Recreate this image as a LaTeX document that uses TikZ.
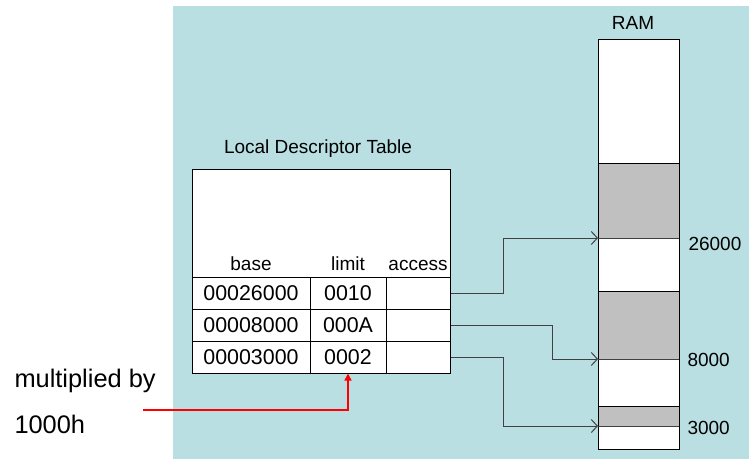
\documentclass[tikz,border=0pt]{standalone}
\usepackage{fontspec}
\setmainfont{Liberation Sans}
\usepackage{tikz}
\usetikzlibrary{positioning}
\usetikzlibrary{arrows.meta}

\definecolor{panel}{RGB}{185,223,226}
\definecolor{block}{RGB}{192,192,192}
\definecolor{wire}{RGB}{64,64,64}

\newcommand{\cellfont}{\fontsize{21.4}{24}\selectfont}
\newcommand{\labfont}{\fontsize{19}{22}\selectfont}
\newcommand{\notefont}{\fontsize{25.4}{28}\selectfont}

\tikzset{
    cell/.style={draw, fill=white, inner sep=0pt, minimum height=32pt, font=\cellfont},
    head/.style={anchor=base, inner sep=0pt, font=\labfont},
    addr/.style={anchor=base west, inner sep=0pt, font=\labfont},
    link/.style={draw=wire, line width=1pt, -{Straight Barb[length=6pt,width=13pt]}},
    mult/.style={draw=red, line width=1.5pt, -{Triangle[length=7pt,width=7pt]}}
}

\begin{document}
\begin{tikzpicture}[x=1pt, y=-1pt, line width=1pt]
                    \useasboundingbox (0,0) rectangle (749,459);
                    \fill[panel] (173,6) rectangle (749,459);   %shaded area

                    %descriptor table
                    \node[draw, fill=white, minimum width=258pt, minimum height=204pt, inner sep=0pt] (ldt) at (321,271) {};
                    \node[head] (ldtname) at (318,153) {Local Descriptor Table};
                    \node[head] (hbase) at (251,270) {base};
                    \node[head] (hlimit) at (348,270) {limit};
                    \node[head] (haccess) at (418,270) {access};
                    \node[cell, minimum width=118pt] (base1) at (251,293) {00026000};
                    \node[cell, minimum width=76pt] (lim1) at (348,293) {0010};
                    \node[cell, minimum width=64pt] (acc1) at (418,293) {};
                    \node[cell, minimum width=118pt] (base2) at (251,325) {00008000};
                    \node[cell, minimum width=76pt] (lim2) at (348,325) {000A};
                    \node[cell, minimum width=64pt] (acc2) at (418,325) {};
                    \node[cell, minimum width=118pt] (base3) at (251,357) {00003000};
                    \node[cell, minimum width=76pt] (lim3) at (348,357) {0002};
                    \node[cell, minimum width=64pt] (acc3) at (418,357) {};

                    %memory
                    \node[draw, fill=white, minimum width=81pt, minimum height=410pt, inner sep=0pt] (ram) at (638.5,244) {};
                    \node[head] (ramname) at (633,29) {RAM};
                    \filldraw[fill=block] (598,163) rectangle (679,238);   %segment 1
                    \filldraw[fill=block] (598,291) rectangle (679,359);   %segment 2
                    \filldraw[fill=block] (598,406) rectangle (679,426);   %segment 3
                    \draw[wire] (598,238) -- (679,238);
                    \draw[wire] (598,359) -- (679,359);
                    \draw[wire] (598,426) -- (679,426);
                    \coordinate (m26000) at (598,238);
                    \coordinate (m8000) at (598,359);
                    \coordinate (m3000) at (598,426);
                    \node[addr] (a26000) at (688,250) {26000};
                    \node[addr] (a8000) at (687,366) {8000};
                    \node[addr] (a3000) at (687,434) {3000};

                    %pointers
                    \draw[link] (acc1.east) -- ++(53,0) |- (m26000);
                    \draw[link] (acc2.east) -- ++(102,0) |- (m8000);
                    \draw[link] (acc3.east) -- ++(53,0) |- (m3000);

                    %note
                    \node[anchor=base west, inner sep=0pt, font=\notefont] (note1) at (14,387) {multiplied by};
                    \node[anchor=base west, inner sep=0pt, font=\notefont] (note2) at (14,433) {1000h};
                    \coordinate (noteend) at (143,410);
                    \draw[mult] (noteend) -| (lim3.south);
                \end{tikzpicture}
\end{document}
